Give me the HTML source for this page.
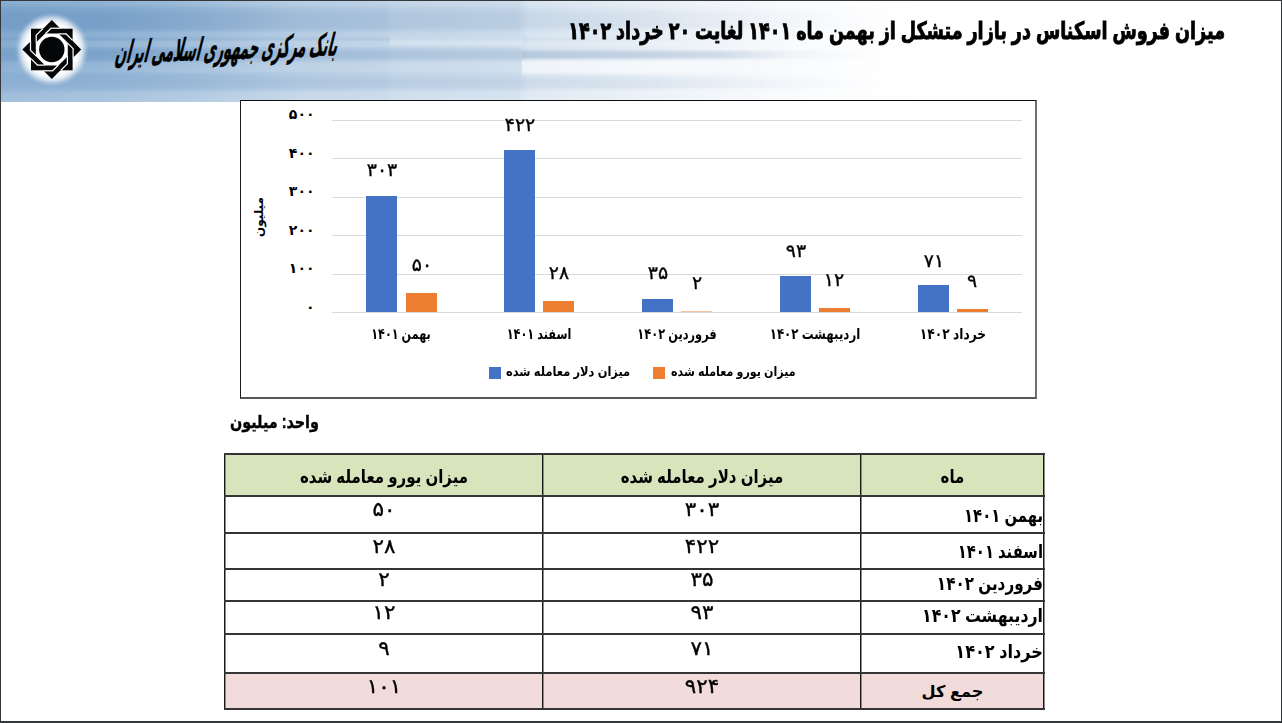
<!DOCTYPE html>
<html lang="fa">
<head>
<meta charset="utf-8">
<title>میزان فروش اسکناس در بازار متشکل</title>
<style>
html,body{margin:0;padding:0;}
body{width:1282px;height:723px;position:relative;overflow:hidden;background:#fff;
  font-family:"Liberation Sans","DejaVu Sans",sans-serif;color:#000;}
.abs{position:absolute;}
.t{position:absolute;white-space:nowrap;direction:rtl;font-weight:bold;line-height:1;}
.c{text-align:center;}
.r{text-align:right;transform-origin:100% 50%;}
#frame{position:absolute;left:0;top:0;width:1280px;height:720px;border:1px solid #35383a;border-bottom-width:2px;z-index:50;pointer-events:none;}
#hdr{position:absolute;left:0;top:0;width:1282px;height:102px;overflow:hidden;background:linear-gradient(to right,rgba(255,255,255,0) 0,rgba(255,255,255,.04) 100px,rgba(255,255,255,.17) 200px,rgba(255,255,255,.36) 300px,rgba(255,255,255,.42) 386px,rgba(255,255,255,.47) 392px,rgba(255,255,255,.50) 450px,rgba(255,255,255,.55) 518px,rgba(255,255,255,.66) 528px,rgba(255,255,255,.76) 620px,rgba(255,255,255,.86) 700px,rgba(255,255,255,.94) 780px,rgba(255,255,255,.985) 860px,#fff 950px),linear-gradient(to bottom,#84abd1 0,#7da5cc 7%,#769fc9 15%,#77a0c9 26%,#7ca4cc 34%,#7ea6cd 60%,#8fb2d5 80%,#9dbcda 100%);}
#title{right:57px;top:19px;font-size:24px;transform-origin:100% 50%;transform:scaleX(0.733);-webkit-text-stroke:0.9px #000;}
#bank{left:117px;top:37px;font-size:31px;transform-origin:0 50%;transform:rotate(-2deg) skewX(-16deg) scaleX(.42);-webkit-text-stroke:0.5px #000;}
#chart{position:absolute;left:240px;top:100px;width:794px;height:296px;background:#fff;
  border-left:1px solid #1a1a1a;border-top:1px solid #0c0c0c;border-right:2px solid #6f6f6f;border-bottom:2px solid #575757;}
.grid{position:absolute;left:332px;width:690px;height:1px;background:#d9d9d9;}
.bar{position:absolute;width:31px;}
.b{background:#4472c4;}
.o{background:#ed7d31;}
#ylab{left:229px;top:211px;font-size:12px;width:60px;text-align:center;transform:rotate(-90deg);}
.ax{font-size:14px;width:60px;text-align:right;direction:ltr;}
.dl{font-size:18px;width:80px;text-align:center;direction:ltr;font-weight:normal;-webkit-text-stroke:.35px #000;transform:scaleX(1.05);}
.cat{font-size:15px;width:138px;text-align:center;}
.lg{font-size:13px;transform-origin:0 50%;}
#unit{left:230px;top:414px;font-size:17.5px;transform-origin:0 50%;transform:scaleX(0.82);-webkit-text-stroke:.4px #000;}
.hd{background:#d8e4bc;}
.tot{background:#f2dcdb;}
.hl{position:absolute;left:224px;width:821px;height:2px;background:#353535;}
.vl{position:absolute;top:453px;width:1px;height:257px;background:#1a1a1a;box-shadow:1px 0 0 #8a8a8a;}
.tx{font-size:15px;}
.th{font-size:18.5px;transform:scaleX(0.81);}
.tn{font-size:20px;direction:ltr;font-weight:normal;-webkit-text-stroke:.35px #000;transform:scaleX(1.07);}
.m{font-size:19px;}
</style>
</head>
<body>
<div id="hdr"><div class="abs" style="left:0;top:0;width:900px;height:102px;background:linear-gradient(to bottom,rgba(255,255,255,.10) 0,rgba(255,255,255,.10) 5px,rgba(255,255,255,0) 8px,rgba(30,70,130,.04) 13px,rgba(30,70,130,.05) 26px,rgba(255,255,255,0) 30px,rgba(255,255,255,.14) 33px,rgba(255,255,255,.14) 36px,rgba(255,255,255,0) 39px,rgba(255,255,255,.20) 42px,rgba(255,255,255,.20) 46px,rgba(255,255,255,0) 49px,rgba(30,70,130,.08) 52px,rgba(30,70,130,.08) 57px,rgba(255,255,255,0) 60px,rgba(255,255,255,.18) 63px,rgba(255,255,255,.18) 71px,rgba(255,255,255,0) 75px,rgba(30,70,130,.06) 81px,rgba(30,70,130,.06) 87px,rgba(255,255,255,0) 90px,rgba(255,255,255,.14) 93px,rgba(255,255,255,.14) 102px);-webkit-mask-image:linear-gradient(to right,rgba(0,0,0,.5) 0,#000 250px,#000 650px,rgba(0,0,0,.5) 780px,transparent 880px);mask-image:linear-gradient(to right,rgba(0,0,0,.5) 0,#000 250px,#000 650px,rgba(0,0,0,.5) 780px,transparent 880px)"></div><div class="abs" style="left:522px;top:58px;width:300px;height:18px;background:linear-gradient(to bottom,rgba(255,255,255,0) 0,rgba(255,255,255,.55) 4px,rgba(255,255,255,.55) 14px,rgba(255,255,255,0) 18px);-webkit-mask-image:linear-gradient(to right,#000 0,#000 150px,transparent 300px);mask-image:linear-gradient(to right,#000 0,#000 150px,transparent 300px)"></div><div class="abs" style="left:390px;top:36px;width:132px;height:11px;background:linear-gradient(to bottom,rgba(255,255,255,0) 0,rgba(255,255,255,.22) 3px,rgba(255,255,255,.22) 8px,rgba(255,255,255,0) 11px)"></div><div class="abs" style="left:522px;top:50px;width:268px;height:10px;background:linear-gradient(to bottom,rgba(120,150,190,0) 0,rgba(120,150,190,.16) 3px,rgba(120,150,190,.16) 7px,rgba(120,150,190,0) 10px);-webkit-mask-image:linear-gradient(to right,#000 0,#000 200px,transparent 268px);mask-image:linear-gradient(to right,#000 0,#000 200px,transparent 268px)"></div></div>
<svg id="logo" class="abs" style="left:0;top:0" width="110" height="102" viewBox="0 0 110 102"><defs><radialGradient id="glow" cx="50%" cy="50%" r="50%"><stop offset="0" stop-color="#fff" stop-opacity="1"/><stop offset=".70" stop-color="#fff" stop-opacity="1"/><stop offset=".82" stop-color="#fff" stop-opacity=".7"/><stop offset=".93" stop-color="#fff" stop-opacity=".18"/><stop offset="1" stop-color="#fff" stop-opacity="0"/></radialGradient></defs><circle cx="51.8" cy="49.5" r="37" fill="url(#glow)"/><g transform="translate(51.8 49.5)"><rect x="-20.8" y="-20.8" width="41.6" height="41.6" fill="#050608"/><rect x="-20.8" y="-20.8" width="41.6" height="41.6" fill="#050608" transform="rotate(45)"/><polygon points="16.00,6.63 6.63,16.00 -6.63,16.00 -16.00,6.63 -16.00,-6.63 -6.63,-16.00 6.63,-16.00 16.00,-6.63" fill="#fff"/><g transform="rotate(0)" stroke="#fff" stroke-width="1.25" stroke-linecap="butt" fill="none"><line x1="-1.33" y1="-21.30" x2="8.92" y2="-21.30"/><line x1="-0.83" y1="-21.30" x2="-6.43" y2="-15.70"/><line x1="-9.12" y1="-20.80" x2="-16.00" y2="-13.92"/><line x1="-15.60" y1="-6.63" x2="-15.60" y2="-14.22"/></g><g transform="rotate(90)" stroke="#fff" stroke-width="1.25" stroke-linecap="butt" fill="none"><line x1="-1.33" y1="-21.30" x2="8.92" y2="-21.30"/><line x1="-0.83" y1="-21.30" x2="-6.43" y2="-15.70"/><line x1="-9.12" y1="-20.80" x2="-16.00" y2="-13.92"/><line x1="-15.60" y1="-6.63" x2="-15.60" y2="-14.22"/></g><g transform="rotate(180)" stroke="#fff" stroke-width="1.25" stroke-linecap="butt" fill="none"><line x1="-1.33" y1="-21.30" x2="8.92" y2="-21.30"/><line x1="-0.83" y1="-21.30" x2="-6.43" y2="-15.70"/><line x1="-9.12" y1="-20.80" x2="-16.00" y2="-13.92"/><line x1="-15.60" y1="-6.63" x2="-15.60" y2="-14.22"/></g><g transform="rotate(270)" stroke="#fff" stroke-width="1.25" stroke-linecap="butt" fill="none"><line x1="-1.33" y1="-21.30" x2="8.92" y2="-21.30"/><line x1="-0.83" y1="-21.30" x2="-6.43" y2="-15.70"/><line x1="-9.12" y1="-20.80" x2="-16.00" y2="-13.92"/><line x1="-15.60" y1="-6.63" x2="-15.60" y2="-14.22"/></g><circle r="12.7" fill="#050608"/></g></svg>
<div id="title" class="t">میزان فروش اسکناس در بازار متشکل از بهمن ماه ۱۴۰۱ لغایت ۲۰ خرداد ۱۴۰۲</div>
<div id="bank" class="t">بانک مرکزی جمهوری اسلامی ایران</div>
<div id="chart"></div>
<div class="grid" style="top:120px"></div>
<div class="grid" style="top:158px"></div>
<div class="grid" style="top:197px"></div>
<div class="grid" style="top:235px"></div>
<div class="grid" style="top:274px"></div>
<div class="grid" style="top:312px"></div>
<div class="t ax" style="left:254.5px;top:107px">۵۰۰</div>
<div class="t ax" style="left:254.5px;top:146px">۴۰۰</div>
<div class="t ax" style="left:254.5px;top:184px">۳۰۰</div>
<div class="t ax" style="left:254.5px;top:223px">۲۰۰</div>
<div class="t ax" style="left:254.5px;top:261px">۱۰۰</div>
<div class="t ax" style="left:254.5px;top:300px">۰</div>
<div class="t" id="ylab">میلیون</div>
<div class="bar b" style="left:366px;top:196px;height:116px"></div>
<div class="bar o" style="left:406px;top:293px;height:19px"></div>
<div class="t dl" style="left:341.5px;top:161px">۳۰۳</div>
<div class="t dl" style="left:381.5px;top:255.5px">۵۰</div>
<div class="t cat" style="left:332px;top:326px;transform:scaleX(0.744)">بهمن ۱۴۰۱</div>
<div class="bar b" style="left:504px;top:150px;height:162px"></div>
<div class="bar o" style="left:543px;top:301px;height:11px"></div>
<div class="t dl" style="left:479.5px;top:115.5px">۴۲۲</div>
<div class="t dl" style="left:518.5px;top:263.5px">۲۸</div>
<div class="t cat" style="left:470px;top:326px;transform:scaleX(0.75)">اسفند ۱۴۰۱</div>
<div class="bar b" style="left:642px;top:299px;height:13px"></div>
<div class="bar o" style="left:681px;top:311px;height:1px;background:#f5c3a0"></div>
<div class="t dl" style="left:617.5px;top:264px">۳۵</div>
<div class="t dl" style="left:656.5px;top:273.5px">۲</div>
<div class="t cat" style="left:608px;top:326px;transform:scaleX(0.757)">فروردین ۱۴۰۲</div>
<div class="bar b" style="left:780px;top:276px;height:36px"></div>
<div class="bar o" style="left:819px;top:308px;height:4px"></div>
<div class="t dl" style="left:755.5px;top:242px">۹۳</div>
<div class="t dl" style="left:793.5px;top:270.5px">۱۲</div>
<div class="t cat" style="left:746px;top:326px;transform:scaleX(0.787)">اردیبهشت ۱۴۰۲</div>
<div class="bar b" style="left:918px;top:285px;height:27px"></div>
<div class="bar o" style="left:957px;top:309px;height:3px"></div>
<div class="t dl" style="left:893.5px;top:251.5px">۷۱</div>
<div class="t dl" style="left:931.5px;top:271.5px">۹</div>
<div class="t cat" style="left:884px;top:326px;transform:scaleX(0.813)">خرداد ۱۴۰۲</div>
<div class="abs b" style="left:489px;top:367px;width:12px;height:12px"></div>
<div class="t lg" style="left:506px;top:365px;transform:scaleX(0.88)">میزان دلار معامله شده</div>
<div class="abs o" style="left:653px;top:367px;width:12px;height:12px"></div>
<div class="t lg" style="left:671px;top:365px;transform:scaleX(0.854)">میزان یورو معامله شده</div>
<div class="t" id="unit">واحد: میلیون</div>
<div class="abs hd" style="left:224px;top:453px;width:820px;height:42px"></div>
<div class="abs tot" style="left:224px;top:672px;width:820px;height:36px"></div>
<div class="vl" style="left:224px"></div>
<div class="vl" style="left:542px"></div>
<div class="vl" style="left:860px"></div>
<div class="vl" style="left:1043px"></div>
<div class="hl" style="top:453px"></div>
<div class="hl" style="top:495px"></div>
<div class="hl" style="top:532px"></div>
<div class="hl" style="top:568px"></div>
<div class="hl" style="top:600px"></div>
<div class="hl" style="top:633px"></div>
<div class="hl" style="top:672px"></div>
<div class="hl" style="top:708px"></div>
<div class="t th c" style="left:861px;width:183px;top:468px">ماه</div>
<div class="t th c" style="left:543px;width:318px;top:468px">میزان دلار معامله شده</div>
<div class="t th c" style="left:225px;width:318px;top:468px">میزان یورو معامله شده</div>
<div class="t m r" style="left:861px;width:182px;top:506px;transform:scaleX(0.78)">بهمن ۱۴۰۱</div>
<div class="t tn c" style="left:543px;width:318px;top:499px">۳۰۳</div>
<div class="t tn c" style="left:225px;width:318px;top:499px">۵۰</div>
<div class="t m r" style="left:861px;width:182px;top:542px;transform:scaleX(0.78)">اسفند ۱۴۰۱</div>
<div class="t tn c" style="left:543px;width:318px;top:536px">۴۲۲</div>
<div class="t tn c" style="left:225px;width:318px;top:536px">۲۸</div>
<div class="t m r" style="left:861px;width:182px;top:574px;transform:scaleX(0.8)">فروردین ۱۴۰۲</div>
<div class="t tn c" style="left:543px;width:318px;top:569px">۳۵</div>
<div class="t tn c" style="left:225px;width:318px;top:569px">۲</div>
<div class="t m r" style="left:861px;width:182px;top:606px;transform:scaleX(0.83)">اردیبهشت ۱۴۰۲</div>
<div class="t tn c" style="left:543px;width:318px;top:602px">۹۳</div>
<div class="t tn c" style="left:225px;width:318px;top:602px">۱۲</div>
<div class="t m r" style="left:861px;width:182px;top:642px;transform:scaleX(0.85)">خرداد ۱۴۰۲</div>
<div class="t tn c" style="left:543px;width:318px;top:638px">۷۱</div>
<div class="t tn c" style="left:225px;width:318px;top:638px">۹</div>
<div class="t tx c" style="left:861px;width:183px;top:683px;font-size:16.2px">جمع کل</div>
<div class="t tn c" style="left:543px;width:318px;top:676px">۹۲۴</div>
<div class="t tn c" style="left:225px;width:318px;top:676px">۱۰۱</div>
<div id="frame"></div>
</body>
</html>
